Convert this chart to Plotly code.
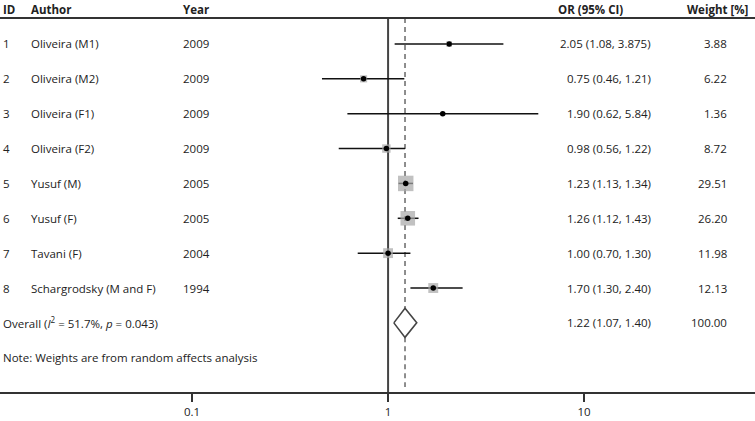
import math
import plotly.graph_objects as go

ids = ["1", "2", "3", "4", "5", "6", "7", "8"]
authors = ["Oliveira (M1)", "Oliveira (M2)", "Oliveira (F1)", "Oliveira (F2)",
           "Yusuf (M)", "Yusuf (F)", "Tavani (F)", "Schargrodsky (M and F)"]
years = ["2009", "2009", "2009", "2009", "2005", "2005", "2004", "1994"]
or_est = [2.05, 0.75, 1.90, 0.98, 1.23, 1.26, 1.00, 1.70]
ci_low = [1.08, 0.46, 0.62, 0.56, 1.13, 1.12, 0.70, 1.30]
ci_high = [3.875, 1.21, 5.84, 1.22, 1.34, 1.43, 1.30, 2.40]
or_labels = ["2.05 (1.08, 3.875)", "0.75 (0.46, 1.21)", "1.90 (0.62, 5.84)",
             "0.98 (0.56, 1.22)", "1.23 (1.13, 1.34)", "1.26 (1.12, 1.43)",
             "1.00 (0.70, 1.30)", "1.70 (1.30, 2.40)"]
weights = [3.88, 6.22, 1.36, 8.72, 29.51, 26.20, 11.98, 12.13]
weight_labels = ["3.88", "6.22", "1.36", "8.72", "29.51", "26.20", "11.98", "12.13"]

overall_est = 1.22
overall_low = 1.07
overall_high = 1.40
overall_label = "1.22 (1.07, 1.40)"
overall_weight = "100.00"
overall_text = "Overall (<i>I</i><sup>2</sup> = 51.7%, <i>p</i> = 0.043)"
note_text = "Note: Weights are from random affects analysis"

tick_vals = [0.1, 1, 10]
tick_text = ["0.1", "1", "10"]

W, H = 755, 421
FONT = "Open Sans"
FS = 11.5
TXT = "#222222"
LINE = "#333333"

rows = list(range(1, len(ids) + 1))
overall_row = len(ids) + 1
note_row = len(ids) + 2

fig = go.Figure()

# CI lines
xs, ys = [], []
for r, lo, hi in zip(rows, ci_low, ci_high):
    xs += [lo, hi, None]
    ys += [r, r, None]
fig.add_trace(go.Scatter(x=xs, y=ys, mode="lines",
                         line=dict(color="#111111", width=1.5),
                         hoverinfo="skip", showlegend=False))

# weight squares
fig.add_trace(go.Scatter(x=or_est, y=rows, mode="markers",
                         marker=dict(symbol="square", color="#a6a6a6",
                                     size=[2.85 * math.sqrt(w) for w in weights],
                                     line=dict(width=0)),
                         hoverinfo="skip", showlegend=False))

# point estimates
fig.add_trace(go.Scatter(x=or_est, y=rows, mode="markers",
                         marker=dict(symbol="circle", color="#000000", size=5.5),
                         hoverinfo="skip", showlegend=False))

# overall diamond
h = 0.416
fig.add_trace(go.Scatter(
    x=[overall_low, overall_est, overall_high, overall_est, overall_low],
    y=[overall_row, overall_row - h, overall_row, overall_row + h, overall_row],
    mode="lines", fill="toself", fillcolor="white",
    line=dict(color="#444444", width=1.6),
    hoverinfo="skip", showlegend=False))

header_row = 0.254
bottom_row = 10.983

shapes = [
    dict(type="line", xref="paper", yref="y", x0=0, x1=1, y0=header_row, y1=header_row,
         line=dict(color=LINE, width=2)),
    dict(type="line", xref="x", yref="y", x0=1, x1=1, y0=header_row, y1=bottom_row,
         line=dict(color="#444444", width=2), layer="below"),
    dict(type="line", xref="x", yref="y", x0=overall_est, x1=overall_est,
         y0=header_row, y1=overall_row - h,
         line=dict(color="#444444", width=1.2, dash="5px,4px"), layer="below"),
    dict(type="line", xref="x", yref="y", x0=overall_est, x1=overall_est,
         y0=overall_row + h, y1=10.84,
         line=dict(color="#444444", width=1.2, dash="5px,4px"), layer="below"),
]

ann = []
def txt(x, y, s, anchor="left", bold=False):
    ann.append(dict(xref="paper", yref="y", x=x / W, y=y, text=f"<b>{s}</b>" if bold else s,
                    showarrow=False, xanchor=anchor, yanchor="middle",
                    font=dict(family=FONT, size=FS, color=TXT)))

hy = 0.0
txt(1, hy, "ID", bold=True)
txt(29, hy, "Author", bold=True)
txt(181, hy, "Year", bold=True)
txt(556, hy, "OR (95% CI)", bold=True)
txt(750, hy, "Weight [%]", anchor="right", bold=True)

for r, i, a, yv, o, w in zip(rows, ids, authors, years, or_labels, weight_labels):
    txt(1, r, i)
    txt(29, r, a)
    txt(181, r, yv)
    txt(653, r, o, anchor="right")
    txt(729, r, w, anchor="right")

txt(1, overall_row, overall_text)
txt(653, overall_row, overall_label, anchor="right")
txt(729, overall_row, overall_weight, anchor="right")
txt(1, note_row, note_text)

fig.update_layout(
    width=W, height=H,
    margin=dict(l=0, r=0, t=0, b=29),
    paper_bgcolor="white", plot_bgcolor="white",
    shapes=shapes, annotations=ann,
    xaxis=dict(type="log", range=[-1.98, 1.872], showgrid=False, zeroline=False,
               showline=True, linecolor=LINE, linewidth=2,
               ticks="outside", ticklen=8, tickwidth=1.5, tickcolor=LINE,
               tickvals=tick_vals, ticktext=tick_text,
               tickfont=dict(family=FONT, size=FS, color=TXT)),
    yaxis=dict(range=[bottom_row, -0.262], showgrid=False, zeroline=False,
               showline=False, showticklabels=False, ticks=""),
)

fig.write_html("out.html",
               config={"displayModeBar": False},
               post_script="document.body.style.margin='0';document.body.style.overflow='hidden';")
